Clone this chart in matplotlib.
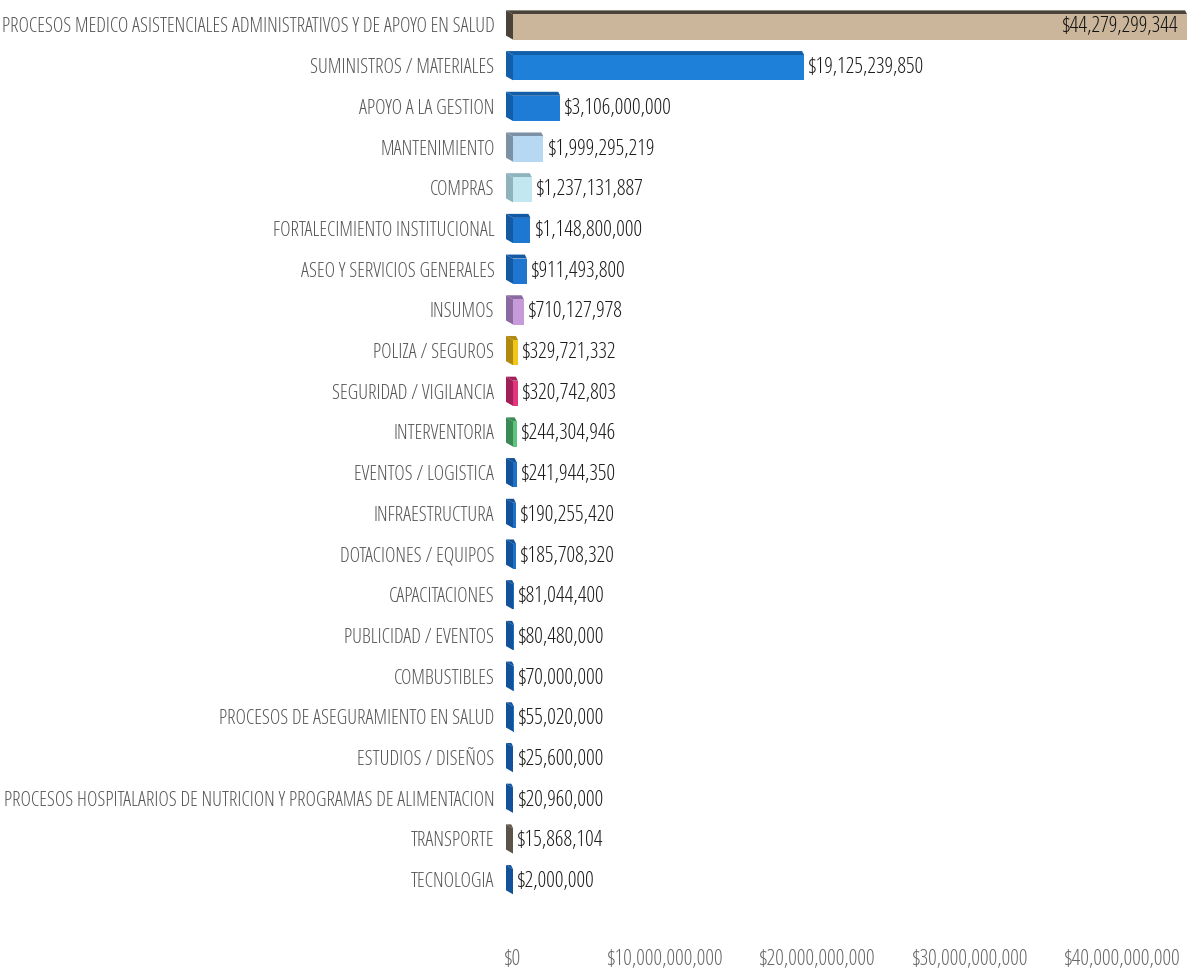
import matplotlib
matplotlib.use("Agg")
import matplotlib.pyplot as plt
from matplotlib.patches import Polygon, Rectangle
from matplotlib.transforms import ScaledTranslation
from matplotlib.ticker import FuncFormatter

# Contract categories and values (COP)
categorias = [
    "PROCESOS MEDICO ASISTENCIALES ADMINISTRATIVOS Y DE APOYO EN SALUD",
    "SUMINISTROS / MATERIALES",
    "APOYO A LA GESTION",
    "MANTENIMIENTO",
    "COMPRAS",
    "FORTALECIMIENTO INSTITUCIONAL",
    "ASEO Y SERVICIOS GENERALES",
    "INSUMOS",
    "POLIZA / SEGUROS",
    "SEGURIDAD / VIGILANCIA",
    "INTERVENTORIA",
    "EVENTOS / LOGISTICA",
    "INFRAESTRUCTURA",
    "DOTACIONES / EQUIPOS",
    "CAPACITACIONES",
    "PUBLICIDAD / EVENTOS",
    "COMBUSTIBLES",
    "PROCESOS DE ASEGURAMIENTO EN SALUD",
    "ESTUDIOS / DISEÑOS",
    "PROCESOS HOSPITALARIOS DE NUTRICION Y PROGRAMAS DE ALIMENTACION",
    "TRANSPORTE",
    "TECNOLOGIA",
]
valores = [
    44279299344, 19125239850, 3106000000, 1999295219, 1237131887,
    1148800000, 911493800, 710127978, 329721332, 320742803,
    244304946, 241944350, 190255420, 185708320, 81044400,
    80480000, 70000000, 55020000, 25600000, 20960000,
    15868104, 2000000,
]
# front colour, side colour for each bar
frente = [
    "#cbb59b", "#1f80da", "#1f7cd6", "#b7d8f3", "#c2e7f1",
    "#1e78d2", "#1e76d0", "#c79ad9", "#f2c619", "#e2357c",
    "#5fc27d", "#1f70c9", "#1f70c9", "#1f70c9", "#1f6fc8",
    "#1f6fc8", "#1f6fc8", "#1f6fc8", "#1f6fc8", "#1f6fc8",
    "#8c8273", "#1f6fc8",
]
lado = [
    "#4b4239", "#135ea8", "#135ea8", "#7d91a5", "#8fb3bd",
    "#135aa3", "#135aa3", "#8a6aa1", "#b08a10", "#a22058",
    "#3b8a56", "#12529a", "#12529a", "#12529a", "#12529a",
    "#12529a", "#12529a", "#12529a", "#12529a", "#12529a",
    "#5c5448", "#12529a",
]
ticks_x = [0, 10000000000, 20000000000, 30000000000, 40000000000]

plt.rcParams["font.family"] = ["Open Sans", "DejaVu Sans"]
plt.rcParams["font.stretch"] = "condensed"
plt.rcParams["font.weight"] = 300

fig = plt.figure(figsize=(11.9, 9.77), dpi=100)
ax_left, ax_w = 500 / 1190, 690 / 1190
ax_bot, ax_h = 1 - 900 / 977, (900 - 4.6) / 977
ax = fig.add_axes([ax_left, ax_bot, ax_w, ax_h])

px_per_unit = 152.25 / 1e10
xmin = -13 / px_per_unit
xmax = xmin + 690 / px_per_unit
ax.set_xlim(xmin, xmax)
ax.set_ylim(len(categorias) - 0.5, -0.5)

row_px = (900 - 4.6) / len(categorias)
dx = 7 / px_per_unit      # depth of the 3D side
dy = 4 / row_px           # depth of the 3D top
h = 0.62

for i, (v, cf, cs) in enumerate(zip(valores, frente, lado)):
    top = i - h / 2 + 0.05
    bot = i + h / 2 + 0.05
    ax.add_patch(Polygon([(0, top), (0, bot), (-dx, bot - dy), (-dx, top - dy)],
                         closed=True, facecolor=cs, edgecolor="none"))
    ax.add_patch(Polygon([(0, top), (v, top), (v - dx * 0.3, top - dy), (-dx, top - dy)],
                         closed=True, facecolor=cs, edgecolor="none"))
    ax.add_patch(Rectangle((0, top), v, bot - top, facecolor=cf, edgecolor="none"))
    txt = "${:,.0f}".format(v)
    if i == 0:
        ax.annotate(txt, (v, i + 0.05), xytext=(-6, 0), textcoords="offset points",
                    ha="right", va="center", fontsize=15.5, color="#111111", weight="normal")
    else:
        ax.annotate(txt, (v, i + 0.05), xytext=(3, 0), textcoords="offset points",
                    ha="left", va="center", fontsize=15.5, color="#1a1a1a", weight="normal")

ax.set_yticks(range(len(categorias)))
ax.set_yticklabels(categorias, fontsize=14.4, color="#555555")
for lab in ax.get_yticklabels():
    lab.set_transform(lab.get_transform() + ScaledTranslation(0, 3 / 72, fig.dpi_scale_trans))

ax.set_xticks(ticks_x)
ax.xaxis.set_major_formatter(FuncFormatter(lambda x, p: "${:,.0f}".format(x)))
ax.tick_params(axis="x", length=0, pad=35, labelsize=15.5, labelcolor="#666666")
ax.tick_params(axis="y", length=0, pad=4)
for s in ax.spines.values():
    s.set_visible(False)

fig.savefig("out.png", dpi=100)
